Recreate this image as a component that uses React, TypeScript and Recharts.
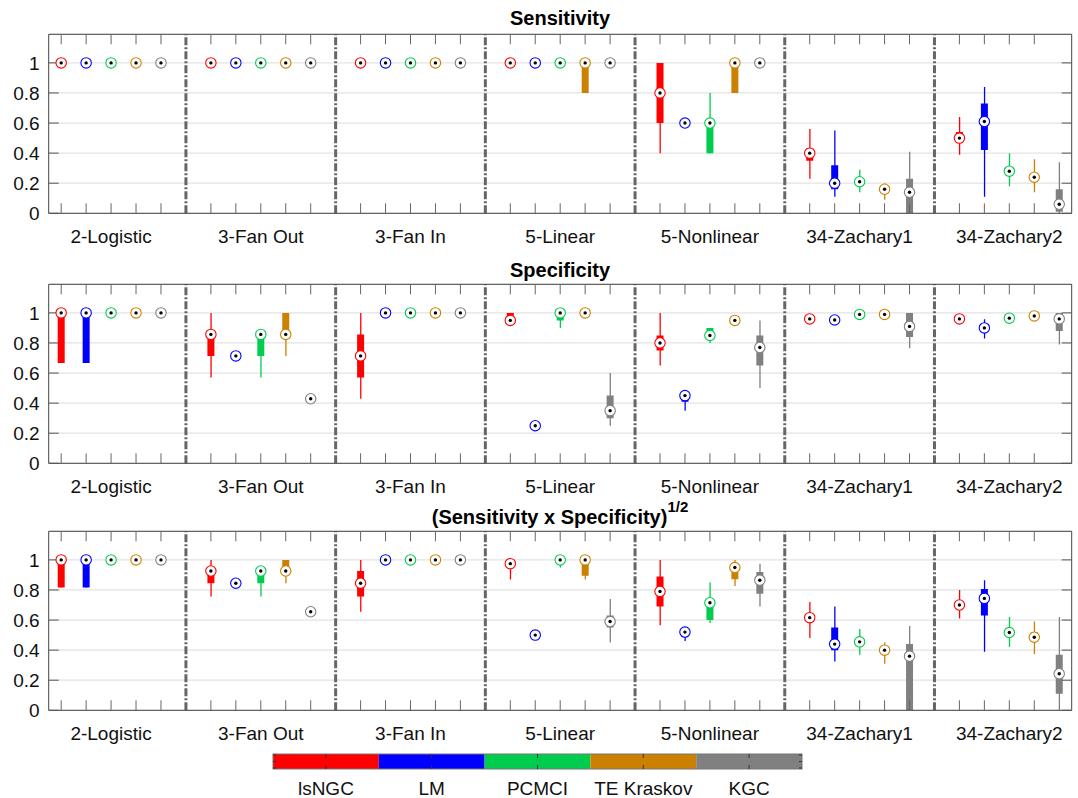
import React from "react";
import {
  ComposedChart,
  Bar,
  Line,
  XAxis,
  YAxis,
  CartesianGrid,
  ReferenceLine,
  Cell,
} from "recharts";

const groups = ["2-Logistic", "3-Fan Out", "3-Fan In", "5-Linear", "5-Nonlinear", "34-Zachary1", "34-Zachary2"];
const methods = ["lsNGC", "LM", "PCMCI", "TE Kraskov", "KGC"];
const colors = ["#ff0000", "#0000ff", "#00cc4d", "#cc8000", "#808080"];
const yTicks = [0, 0.2, 0.4, 0.6, 0.8, 1];

// each row: [low whisker, q1, median, q3, high whisker], 5 methods per group
const sensitivity = [
  [1, 1, 1, 1, 1], [1, 1, 1, 1, 1], [1, 1, 1, 1, 1], [1, 1, 1, 1, 1], [1, 1, 1, 1, 1],
  [1, 1, 1, 1, 1], [1, 1, 1, 1, 1], [1, 1, 1, 1, 1], [1, 1, 1, 1, 1], [1, 1, 1, 1, 1],
  [1, 1, 1, 1, 1], [1, 1, 1, 1, 1], [1, 1, 1, 1, 1], [1, 1, 1, 1, 1], [1, 1, 1, 1, 1],
  [1, 1, 1, 1, 1], [1, 1, 1, 1, 1], [1, 1, 1, 1, 1], [0.8, 0.8, 1, 1, 1], [1, 1, 1, 1, 1],
  [0.4, 0.6, 0.8, 1, 1], [0.6, 0.6, 0.6, 0.6, 0.6], [0.4, 0.4, 0.6, 0.6, 0.8], [0.8, 0.8, 1, 1, 1], [1, 1, 1, 1, 1],
  [0.23, 0.35, 0.4, 0.43, 0.56], [0.11, 0.16, 0.2, 0.32, 0.55], [0.14, 0.19, 0.21, 0.23, 0.29], [0.09, 0.15, 0.16, 0.17, 0.2], [0, 0, 0.14, 0.23, 0.41],
  [0.39, 0.47, 0.5, 0.54, 0.64], [0.11, 0.42, 0.61, 0.73, 0.84], [0.18, 0.25, 0.28, 0.3, 0.4], [0.14, 0.22, 0.24, 0.26, 0.36], [0, 0.01, 0.06, 0.16, 0.34],
];

const specificity = [
  [0.667, 0.667, 1, 1, 1], [0.667, 0.667, 1, 1, 1], [1, 1, 1, 1, 1], [1, 1, 1, 1, 1], [1, 1, 1, 1, 1],
  [0.571, 0.714, 0.857, 0.857, 1], [0.714, 0.714, 0.714, 0.714, 0.714], [0.571, 0.714, 0.857, 0.857, 0.857], [0.714, 0.857, 0.857, 1, 1], [0.429, 0.429, 0.429, 0.429, 0.429],
  [0.429, 0.571, 0.714, 0.857, 1], [1, 1, 1, 1, 1], [1, 1, 1, 1, 1], [1, 1, 1, 1, 1], [1, 1, 1, 1, 1],
  [0.92, 0.95, 0.95, 1, 1], [0.25, 0.25, 0.25, 0.25, 0.25], [0.9, 0.95, 1, 1, 1], [1, 1, 1, 1, 1], [0.25, 0.3, 0.35, 0.45, 0.6],
  [0.65, 0.75, 0.8, 0.85, 1], [0.35, 0.41, 0.45, 0.46, 0.46], [0.8, 0.85, 0.85, 0.9, 0.9], [0.95, 0.95, 0.95, 0.95, 0.95], [0.5, 0.65, 0.77, 0.85, 0.95],
  [0.96, 0.96, 0.96, 0.96, 0.96], [0.92, 0.945, 0.953, 0.955, 0.955], [0.99, 0.99, 0.99, 0.99, 0.99], [0.99, 0.99, 0.99, 0.99, 0.99], [0.765, 0.84, 0.91, 1, 1],
  [0.96, 0.96, 0.96, 0.96, 0.96], [0.83, 0.88, 0.9, 0.92, 0.957], [0.965, 0.965, 0.965, 0.965, 0.965], [0.98, 0.98, 0.98, 0.98, 0.98], [0.79, 0.88, 0.96, 1, 1],
];

const geoMean = [
  [0.816, 0.816, 1, 1, 1], [0.816, 0.816, 1, 1, 1], [1, 1, 1, 1, 1], [1, 1, 1, 1, 1], [1, 1, 1, 1, 1],
  [0.756, 0.845, 0.926, 0.926, 1], [0.845, 0.845, 0.845, 0.845, 0.845], [0.756, 0.845, 0.926, 0.926, 0.926], [0.845, 0.926, 0.926, 1, 1], [0.655, 0.655, 0.655, 0.655, 0.655],
  [0.655, 0.756, 0.845, 0.926, 1], [1, 1, 1, 1, 1], [1, 1, 1, 1, 1], [1, 1, 1, 1, 1], [1, 1, 1, 1, 1],
  [0.87, 0.962, 0.975, 0.99, 1], [0.5, 0.5, 0.5, 0.5, 0.5], [0.95, 1, 1, 1, 1], [0.87, 0.894, 1, 1, 1], [0.45, 0.55, 0.59, 0.63, 0.74],
  [0.565, 0.69, 0.79, 0.89, 1], [0.46, 0.5, 0.52, 0.54, 0.54], [0.58, 0.6, 0.715, 0.715, 0.85], [0.826, 0.872, 0.949, 0.949, 1], [0.69, 0.775, 0.865, 0.92, 0.975],
  [0.48, 0.59, 0.616, 0.64, 0.72], [0.325, 0.4, 0.44, 0.55, 0.69], [0.37, 0.43, 0.455, 0.48, 0.54], [0.31, 0.38, 0.4, 0.42, 0.45], [0, 0, 0.36, 0.44, 0.56],
  [0.61, 0.67, 0.7, 0.72, 0.8], [0.39, 0.63, 0.744, 0.806, 0.865], [0.42, 0.5, 0.517, 0.54, 0.62], [0.375, 0.47, 0.486, 0.52, 0.59], [0, 0.11, 0.243, 0.37, 0.62],
];

const font = "'Liberation Sans', Arial, Helvetica, sans-serif";

function buildRows(stats: number[][]) {
  const rows: any[] = [];
  groups.forEach((g, gi) => {
    methods.forEach((m, mi) => {
      const s = stats[gi * methods.length + mi];
      rows.push({ key: `${gi}-${mi}`, mi, w: [s[0], s[4]], b: [s[1], s[3]], med: s[2] });
    });
    if (gi < groups.length - 1) rows.push({ key: `sep${gi}` });
  });
  return rows;
}

const renderMedian = (props: any) => {
  const { cx, cy, payload, index } = props;
  if (!payload || payload.med == null || cx == null || cy == null) return <g key={index} />;
  const c = colors[payload.mi];
  return (
    <g key={index}>
      <circle cx={cx} cy={cy} r={5.2} fill="#fff" stroke={c} strokeWidth={1.1} />
      <circle cx={cx} cy={cy} r={1.7} fill="#000" />
    </g>
  );
};

function Panel({ stats, top }: { stats: number[][]; top: number }) {
  const rows = buildRows(stats);
  // matlab leaves the very last tick off
  const tickKeys = rows.filter((r) => r.mi != null).map((r) => r.key).slice(0, -1);
  const sepKeys = rows.filter((r) => r.mi == null).map((r) => r.key);
  const groupLabel = (k: string) => {
    const [gi, mi] = String(k).split("-");
    return mi === "2" ? groups[Number(gi)] : "";
  };
  return (
    <div style={{ position: "absolute", left: 0, top }}>
      <ComposedChart width={1078} height={258} data={rows} margin={{ top: 0, right: 0, bottom: 0, left: 0 }}>
        <CartesianGrid vertical={false} stroke="#e3e3e3" strokeWidth={1.2} />
        <XAxis
          dataKey="key"
          ticks={tickKeys}
          interval={0}
          height={44.7}
          tickSize={-10}
          tickMargin={26.5}
          tickFormatter={groupLabel}
          axisLine={{ stroke: "#444" }}
          tickLine={{ stroke: "#666" }}
          tick={{ fill: "#111", fontSize: 19 }}
        />
        <XAxis
          xAxisId="top"
          dataKey="key"
          orientation="top"
          ticks={tickKeys}
          interval={0}
          height={34.3}
          tickSize={-10}
          tickFormatter={() => ""}
          axisLine={{ stroke: "#444" }}
          tickLine={{ stroke: "#666" }}
        />
        <YAxis
          domain={[0, 1.19]}
          ticks={yTicks}
          allowDataOverflow
          width={48.7}
          tickSize={-10}
          tickMargin={19}
          axisLine={{ stroke: "#444" }}
          tickLine={{ stroke: "#555" }}
          tick={{ fill: "#111", fontSize: 19 }}
        />
        <YAxis
          yAxisId="right"
          orientation="right"
          domain={[0, 1.19]}
          ticks={yTicks}
          allowDataOverflow
          width={6.3}
          tickSize={-10}
          tickFormatter={() => ""}
          axisLine={{ stroke: "#444" }}
          tickLine={{ stroke: "#555" }}
        />
        {sepKeys.map((k) => (
          <ReferenceLine key={k} x={k} stroke="#666" strokeWidth={3} strokeDasharray="8 2 2 2" />
        ))}
        <Bar xAxisId="top" yAxisId="right" dataKey="w" barSize={1.3} isAnimationActive={false}>
          {rows.map((r) => (
            <Cell key={r.key} fill={r.mi != null ? colors[r.mi] : "none"} />
          ))}
        </Bar>
        <Bar dataKey="b" barSize={7} isAnimationActive={false}>
          {rows.map((r) => (
            <Cell key={r.key} fill={r.mi != null ? colors[r.mi] : "none"} />
          ))}
        </Bar>
        <Line dataKey="med" stroke="none" dot={renderMedian} activeDot={false} isAnimationActive={false} />
      </ComposedChart>
    </div>
  );
}

export default function App() {
  const segW = 105.8;
  const barX = 273;
  const barY = 754;
  const barH = 15;
  return (
    <div style={{ position: "absolute", left: 0, top: 0, width: 1078, height: 798, background: "#fff", fontFamily: font }}>
      <Panel stats={sensitivity} top={0} />
      <Panel stats={specificity} top={250.2} />
      <Panel stats={geoMean} top={497.2} />
      <svg width={1078} height={798} style={{ position: "absolute", left: 0, top: 0, pointerEvents: "none" }}>
        <g fontFamily={font} fontWeight="bold" fontSize={20} textAnchor="middle" fill="#000">
          <text x={560} y={25}>Sensitivity</text>
          <text x={560} y={277}>Specificity</text>
          <text x={560} y={524}>
            (Sensitivity x Specificity)
            <tspan dy={-12} fontSize={15}>1/2</tspan>
          </text>
        </g>
        {methods.map((m, i) => (
          <rect key={m} x={barX + i * segW} y={barY} width={segW} height={barH} fill={colors[i]} />
        ))}
        <rect x={barX} y={barY} width={segW * 5} height={barH} fill="none" stroke="#777" strokeWidth={1} />
        {methods.map((m, i) => (
          <g key={m} stroke="#333" strokeWidth={1}>
            <line x1={barX + (i + 0.5) * segW} x2={barX + (i + 0.5) * segW} y1={barY} y2={barY + 4} />
            <line x1={barX + (i + 0.5) * segW} x2={barX + (i + 0.5) * segW} y1={barY + barH - 4} y2={barY + barH} />
          </g>
        ))}
        {[barY + 1, barY + barH / 2, barY + barH - 1].map((y) => (
          <g key={y} stroke="#333" strokeWidth={1}>
            <line x1={barX} x2={barX + 3} y1={y} y2={y} />
            <line x1={barX + segW * 5 - 3} x2={barX + segW * 5} y1={y} y2={y} />
          </g>
        ))}
        <g fontFamily={font} fontSize={19} textAnchor="middle" fill="#111">
          {methods.map((m, i) => (
            <text key={m} x={barX + (i + 0.5) * segW} y={795}>{m}</text>
          ))}
        </g>
      </svg>
    </div>
  );
}
